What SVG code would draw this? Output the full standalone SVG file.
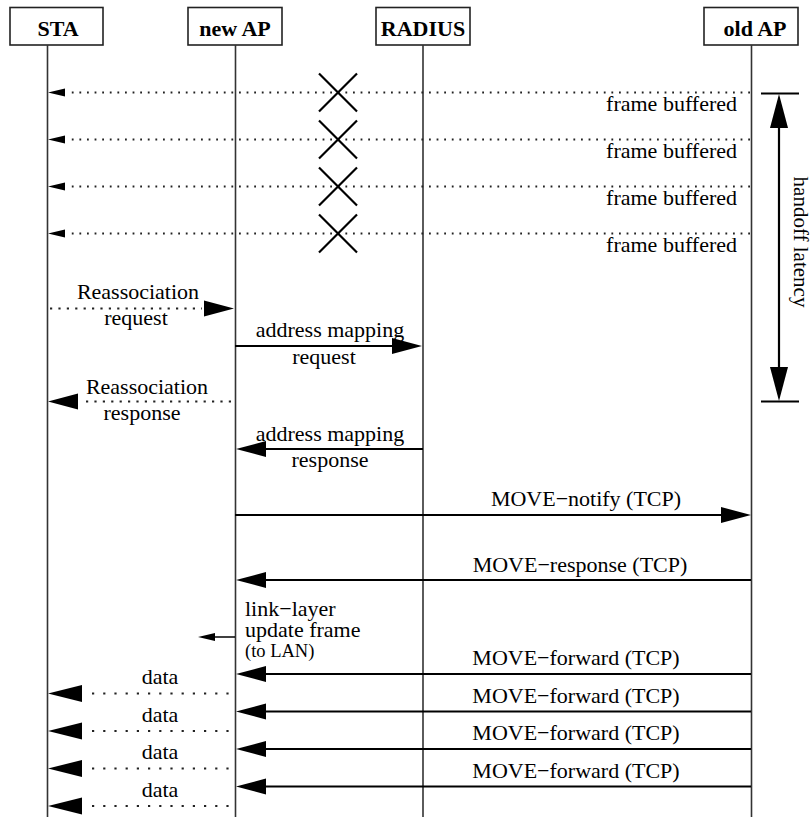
<svg xmlns="http://www.w3.org/2000/svg" xmlns:xlink="http://www.w3.org/1999/xlink" width="812" height="817" viewBox="0 0 812 817">
<style>
.box{fill:#fff;stroke:#222;stroke-width:1.6}
.hdr{font-family:"Liberation Serif","Times New Roman",serif;font-weight:bold;font-size:22px;fill:#000;text-anchor:middle}
.life{stroke:#333;stroke-width:1.6;fill:none}
.lbl{font-family:"Liberation Serif","Times New Roman",serif;font-size:22px;fill:#000}
.mid{text-anchor:middle}
.end{text-anchor:end}
.solid{stroke:#000;stroke-width:2.2;fill:none}
.fine{stroke:#000;stroke-width:1.5;fill:none}
.dotf{stroke:#222;stroke-width:1.8;stroke-dasharray:1.8 5.8;fill:none}
.dotr{stroke:#222;stroke-width:2.2;stroke-dasharray:2.2 6.2;fill:none}
.dotd{stroke:#222;stroke-width:2.2;stroke-dasharray:2.2 9;fill:none}
.xm{stroke:#000;stroke-width:2.2;fill:none}
.ah{fill:#000;stroke:none}
</style>
<defs>
<path id="ahL" class="ah" d="M0,0 L30,-8 L30,8 Z"/>
<path id="ahR" class="ah" d="M0,0 L-30,-8 L-30,8 Z"/>
<path id="ahLd" class="ah" d="M0,0 L34,-8.5 L34,8.5 Z"/>
<path id="ahLs" class="ah" d="M0,0 L17,-4 L17,4 Z"/>
<path id="ahU" class="ah" d="M0,0 L-9,34 L9,34 Z"/>
<path id="ahD" class="ah" d="M0,0 L-9,-34 L9,-34 Z"/>
<path id="xmark" class="xm" d="M-19,-19 L19,19 M-19,19 L19,-19"/>
</defs>

<g id="node-sta">
<rect class="box" x="10" y="7.5" width="93" height="37.5"/>
<text class="hdr" x="58" y="36">STA</text>
<line class="life" x1="47.5" y1="45" x2="47.5" y2="817"/>
</g>
<g id="node-newap">
<rect class="box" x="188" y="7.5" width="94" height="37.5"/>
<text class="hdr" x="235" y="36">new AP</text>
<line class="life" x1="235.5" y1="45" x2="235.5" y2="817"/>
</g>
<g id="node-radius">
<rect class="box" x="376" y="7.5" width="94" height="37.5"/>
<text class="hdr" x="423" y="36">RADIUS</text>
<line class="life" x1="423" y1="45" x2="423" y2="817"/>
</g>
<g id="node-oldap">
<rect class="box" x="704" y="7.5" width="94" height="37.5"/>
<text class="hdr" x="755" y="36">old AP</text>
<line class="life" x1="751.5" y1="45" x2="751.5" y2="817"/>
</g>

<g id="connectors">
<!-- frame buffered (lost) -->
<line class="dotf" x1="750" y1="92.5" x2="68" y2="92.5"/>
<use xlink:href="#ahLs" x="48" y="92.5"/>
<use xlink:href="#xmark" x="338" y="92.5"/>
<text class="lbl end" x="737" y="111">frame buffered</text>

<line class="dotf" x1="750" y1="139.5" x2="68" y2="139.5"/>
<use xlink:href="#ahLs" x="48" y="139.5"/>
<use xlink:href="#xmark" x="338" y="139.5"/>
<text class="lbl end" x="737" y="158">frame buffered</text>

<line class="dotf" x1="750" y1="186.5" x2="68" y2="186.5"/>
<use xlink:href="#ahLs" x="48" y="186.5"/>
<use xlink:href="#xmark" x="338" y="186.5"/>
<text class="lbl end" x="737" y="205">frame buffered</text>

<line class="dotf" x1="750" y1="233.5" x2="68" y2="233.5"/>
<use xlink:href="#ahLs" x="48" y="233.5"/>
<use xlink:href="#xmark" x="338" y="233.5"/>
<text class="lbl end" x="737" y="252">frame buffered</text>

<!-- handoff latency -->
<line class="solid" x1="761" y1="93.5" x2="799" y2="93.5"/>
<line class="solid" x1="761" y1="401.5" x2="799" y2="401.5"/>
<line class="solid" x1="779" y1="110" x2="779" y2="385"/>
<use xlink:href="#ahU" x="779" y="94"/>
<use xlink:href="#ahD" x="779" y="401"/>
<text class="lbl mid" style="font-size:21px" transform="translate(794,242) rotate(90)">handoff latency</text>

<!-- Reassociation request -->
<line class="dotr" x1="50" y1="308.5" x2="202" y2="308.5"/>
<use xlink:href="#ahR" x="234" y="308.5"/>
<text class="lbl mid" x="138" y="299">Reassociation</text>
<text class="lbl mid" x="136" y="325">request</text>

<!-- address mapping request -->
<line class="solid" x1="235" y1="346" x2="400" y2="346"/>
<use xlink:href="#ahR" x="422" y="346"/>
<text class="lbl mid" x="330" y="337">address mapping</text>
<text class="lbl mid" x="324" y="364">request</text>

<!-- Reassociation response -->
<line class="dotr" x1="86" y1="401.5" x2="233" y2="401.5"/>
<use xlink:href="#ahL" x="48" y="401.5"/>
<text class="lbl mid" x="147" y="394">Reassociation</text>
<text class="lbl mid" x="142" y="420">response</text>

<!-- address mapping response -->
<line class="solid" x1="423" y1="449" x2="258" y2="449"/>
<use xlink:href="#ahL" x="236" y="449"/>
<text class="lbl mid" x="330" y="441">address mapping</text>
<text class="lbl mid" x="330" y="467">response</text>

<!-- MOVE-notify -->
<line class="solid" x1="235" y1="515" x2="730" y2="515"/>
<use xlink:href="#ahR" x="751" y="515"/>
<text class="lbl mid" x="586" y="506">MOVE−notify (TCP)</text>

<!-- MOVE-response -->
<line class="solid" x1="751" y1="580" x2="258" y2="580"/>
<use xlink:href="#ahL" x="236" y="580"/>
<text class="lbl mid" x="580" y="571.5">MOVE−response (TCP)</text>

<!-- link-layer update -->
<line class="fine" x1="235" y1="637" x2="210" y2="637"/>
<use xlink:href="#ahLs" x="198" y="637"/>
<text class="lbl" x="245" y="616">link−layer</text>
<text class="lbl" x="245" y="637">update frame</text>
<text class="lbl" x="245" y="656.5" style="font-size:18.5px">(to LAN)</text>

<!-- MOVE-forward and data -->
<line class="solid" x1="751" y1="674" x2="258" y2="674"/>
<use xlink:href="#ahL" x="236" y="674"/>
<text class="lbl mid" x="576" y="665">MOVE−forward (TCP)</text>
<line class="dotd" x1="92" y1="693.5" x2="232" y2="693.5"/>
<use xlink:href="#ahLd" x="48" y="693.5"/>
<text class="lbl mid" x="160" y="684">data</text>

<line class="solid" x1="751" y1="711.5" x2="258" y2="711.5"/>
<use xlink:href="#ahL" x="236" y="711.5"/>
<text class="lbl mid" x="576" y="702.5">MOVE−forward (TCP)</text>
<line class="dotd" x1="92" y1="731" x2="232" y2="731"/>
<use xlink:href="#ahLd" x="48" y="731"/>
<text class="lbl mid" x="160" y="721.5">data</text>

<line class="solid" x1="751" y1="749" x2="258" y2="749"/>
<use xlink:href="#ahL" x="236" y="749"/>
<text class="lbl mid" x="576" y="740">MOVE−forward (TCP)</text>
<line class="dotd" x1="92" y1="768.5" x2="232" y2="768.5"/>
<use xlink:href="#ahLd" x="48" y="768.5"/>
<text class="lbl mid" x="160" y="759">data</text>

<line class="solid" x1="751" y1="786.5" x2="258" y2="786.5"/>
<use xlink:href="#ahL" x="236" y="786.5"/>
<text class="lbl mid" x="576" y="777.5">MOVE−forward (TCP)</text>
<line class="dotd" x1="92" y1="806" x2="232" y2="806"/>
<use xlink:href="#ahLd" x="48" y="806"/>
<text class="lbl mid" x="160" y="796.5">data</text>
</g>
</svg>
